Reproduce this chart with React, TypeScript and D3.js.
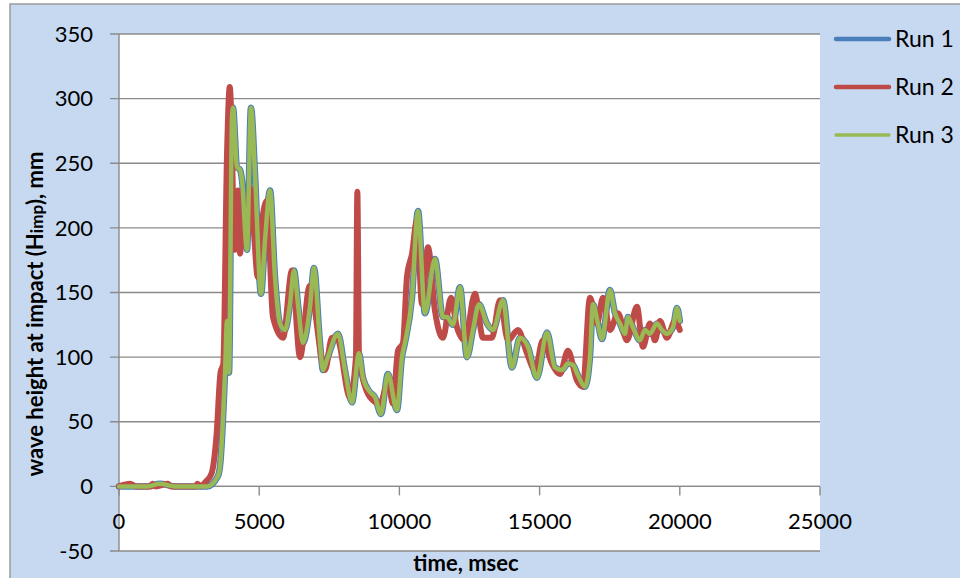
import React from "react";
import * as d3 from "d3";

const timesA = [0, 1000, 1460, 2000, 3000, 3150, 3530, 3600, 3780, 3851, 3923, 4030, 4065, 4208, 4315, 4386, 4564, 4707, 4850, 5064, 5206, 5385, 5563, 5741, 5920, 6098, 6241, 6383, 6561, 6811, 6953, 7168, 7275, 7417, 7810, 8059, 8309, 8558, 8701, 8951, 9129, 9343, 9593, 9913, 10092, 10199, 10448, 10662, 10912, 11268, 11554, 11697, 11910, 12160, 12410, 12624, 12838, 13123, 13337, 13693, 14014, 14300, 14585, 14906, 15262, 15547, 15797, 16011, 16189, 16368, 16618, 16796, 16903, 17081, 17224, 17509, 17688, 17866, 18044, 18151, 18330, 18579, 18757, 18936, 19185, 19364, 19542, 19756, 19899, 20000];
const run1Values = [0, 0, 2, 0, 0, 0, 8, 15, 87, 128, 88, 285, 293, 247, 245, 237, 183, 293, 242, 149, 190, 229, 162, 126, 121, 141, 167, 141, 111, 139, 169, 111, 90, 98, 118, 90, 65, 103, 84, 73, 69, 56, 87, 59, 100, 111, 146, 213, 134, 176, 131, 131, 125, 154, 100, 121, 141, 126, 121, 144, 92, 115, 108, 84, 119, 92, 90, 95, 94, 86, 77, 100, 141, 126, 114, 152, 134, 126, 118, 131, 123, 113, 121, 118, 126, 121, 118, 123, 138, 128];
const run3Values = [0, 0, 2, 0, 0, 0, 8, 15, 87, 128, 88, 285, 293, 247, 245, 237, 183, 293, 242, 149, 190, 229, 162, 126, 121, 141, 167, 141, 111, 139, 169, 111, 90, 98, 118, 90, 65, 103, 84, 73, 69, 56, 87, 59, 100, 111, 146, 213, 134, 176, 131, 131, 125, 154, 100, 121, 141, 126, 121, 144, 92, 115, 108, 84, 119, 92, 90, 95, 94, 86, 77, 100, 141, 126, 114, 152, 134, 126, 118, 131, 123, 113, 121, 118, 126, 121, 118, 123, 138, 128];

const timesB = [0, 400, 600, 1150, 1200, 1300, 1750, 1850, 2750, 2800, 2900, 3070, 3300, 3480, 3620, 3720, 3850, 3950, 4136, 4243, 4315, 4422, 4560, 4670, 4800, 4950, 5100, 5275, 5490, 5850, 6170, 6455, 6800, 7346, 7596, 7774, 8237, 8450, 8500, 8560, 8951, 9307, 9593, 9771, 9950, 10128, 10270, 10450, 10627, 10805, 11019, 11268, 11447, 11554, 11840, 12053, 12340, 12695, 12980, 13300, 13587, 13872, 14228, 14550, 14835, 15120, 15440, 15726, 16011, 16332, 16546, 16796, 17046, 17260, 17509, 17795, 18116, 18472, 18686, 18936, 19114, 19292, 19542, 19827, 20000];
const run2Values = [0, 2, 0, 0, 2, 0, 2, 0, 0, 2, 0, 3, 10, 40, 88, 95, 255, 309, 183, 229, 180, 208, 190, 231, 200, 162, 204, 221, 131, 115, 167, 100, 155, 90, 115, 115, 69, 100, 228, 100, 69, 64, 80, 64, 105, 111, 162, 180, 206, 141, 185, 136, 118, 115, 146, 123, 113, 149, 115, 115, 144, 113, 121, 103, 90, 113, 95, 87, 105, 82, 77, 146, 126, 146, 121, 134, 113, 139, 108, 126, 113, 128, 115, 128, 121];

const yTicks = [-50, 0, 50, 100, 150, 200, 250, 300, 350];
const xTicks = [0, 5000, 10000, 15000, 20000, 25000];
const legendLabels = ["Run 1", "Run 2", "Run 3"];

const FONT = "Lato, 'Open Sans', sans-serif";

export default function App() {
  const left = 119, right = 820, top = 34, bottom = 551;
  const x = d3.scaleLinear().domain([0, 25000]).range([left, right]);
  const y = d3.scaleLinear().domain([-50, 350]).range([bottom, top]);

  const mk = (ts: number[], vs: number[]) =>
    d3.line<number>()
      .x((_, i) => x(ts[i]))
      .y((v) => y(v))
      .curve(d3.curveMonotoneX)(vs) || "";

  const p1 = mk(timesA, run1Values);
  const p2 = mk(timesB, run2Values);
  const p3 = mk(timesA, run3Values);

  const gridColor = "#8a8a8a";
  const blue = "#4a7ebb";
  const red = "#be4b48";
  const green = "#98b954";

  const legend = [
    { label: legendLabels[0], color: blue, w: 4.5 },
    { label: legendLabels[1], color: red, w: 4.5 },
    { label: legendLabels[2], color: green, w: 3.3 },
  ];

  return (
    <svg width={960} height={578} style={{ position: "absolute", left: 0, top: 0 }} fontFamily={FONT}>
      <rect x={0} y={0} width={960} height={578} fill="#ffffff" />
      <rect x={10} y={4} width={970} height={600} fill="#c6d9f0" stroke="#9a9a9a" strokeWidth={1.5} />
      <rect x={left} y={top} width={right - left} height={bottom - top} fill="#ffffff" />
      {yTicks.map((t) => (
        <g key={t}>
          <line x1={left - 9} x2={right} y1={y(t)} y2={y(t)} stroke={gridColor} strokeWidth={1.4} />
          <text x={93} y={y(t)} dy="0.35em" textAnchor="end" fontSize={22} fill="#000">{t}</text>
        </g>
      ))}
      <line x1={left} x2={left} y1={top} y2={bottom} stroke={gridColor} strokeWidth={1.4} />
      <line x1={left} x2={right} y1={y(0)} y2={y(0)} stroke={gridColor} strokeWidth={1.4} />
      {xTicks.map((t) => (
        <g key={t}>
          <line x1={x(t)} x2={x(t)} y1={y(0)} y2={y(0) + 9} stroke={gridColor} strokeWidth={1.4} />
          <text x={x(t)} y={521} dy="0.35em" textAnchor="middle" fontSize={22} fill="#000">{t}</text>
        </g>
      ))}
      <path d={p1} fill="none" stroke={blue} strokeWidth={6.5} strokeLinejoin="round" strokeLinecap="round" />
      <path d={p2} fill="none" stroke={red} strokeWidth={6} strokeLinejoin="round" strokeLinecap="round" />
      <path d={p3} fill="none" stroke={green} strokeWidth={4.5} strokeLinejoin="round" strokeLinecap="round" />
      {legend.map((l, i) => (
        <g key={l.label}>
          <line x1={836} x2={889} y1={39 + i * 48} y2={39 + i * 48} stroke={l.color} strokeWidth={l.w} strokeLinecap="round" />
          <text x={895} y={39 + i * 48} dy="0.35em" fontSize={23} fill="#000">{l.label}</text>
        </g>
      ))}
      <text x={466} y={563} dy="0.35em" textAnchor="middle" fontSize={22} fontWeight="bold" fill="#000">time, msec</text>
      <text transform="translate(35,314) rotate(-90)" textAnchor="middle" dy="0.35em" fontSize={22} fontWeight="bold" fill="#000">
        wave height at impact (H<tspan fontSize={17}>imp</tspan>), mm
      </text>
    </svg>
  );
}
